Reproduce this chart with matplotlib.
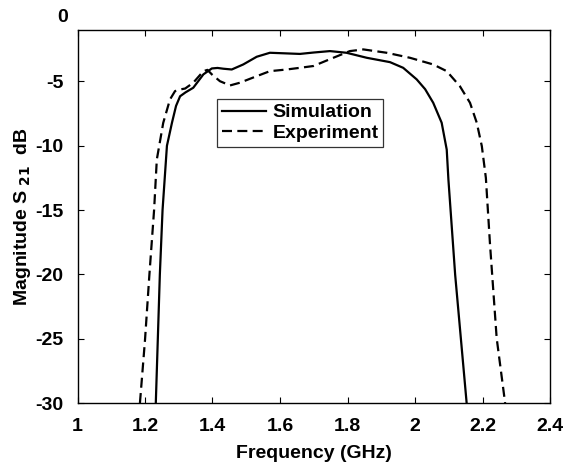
import matplotlib
matplotlib.use("Agg")
import matplotlib.pyplot as plt

plt.rcParams['font.family'] = ['Liberation Sans', 'DejaVu Sans']
plt.rcParams['font.weight'] = 'bold'

sim_f = [1.232, 1.238, 1.244, 1.252, 1.265, 1.280, 1.292, 1.304, 1.320, 1.343, 1.373, 1.398,
         1.415, 1.432, 1.457, 1.491, 1.531, 1.570, 1.620, 1.659, 1.700, 1.748, 1.797, 1.857,
         1.926, 1.965, 2.005, 2.030, 2.054, 2.079, 2.094, 2.099, 2.119, 2.153]
sim_db = [-30.0, -25.0, -20.0, -15.0, -10.0, -8.2, -6.9, -6.15, -5.85, -5.49, -4.45, -3.99,
          -3.95, -4.01, -4.07, -3.68, -3.08, -2.77, -2.82, -2.86, -2.75, -2.64, -2.77, -3.16,
          -3.5, -3.94, -4.84, -5.6, -6.66, -8.21, -10.3, -12.63, -20.03, -30.0]

exp_f = [1.185, 1.200, 1.213, 1.227, 1.235, 1.254, 1.274, 1.289, 1.305, 1.319, 1.343, 1.373,
         1.385, 1.398, 1.422, 1.452, 1.481, 1.531, 1.570, 1.620, 1.659, 1.699, 1.758, 1.807,
         1.847, 1.916, 1.985, 2.054, 2.094, 2.133, 2.163, 2.183, 2.198, 2.210, 2.222, 2.242,
         2.267]
exp_db = [-30.0, -25.1, -20.03, -14.97, -11.07, -8.22, -6.4, -5.75, -5.62, -5.55, -5.1, -4.2,
          -4.1, -4.45, -4.98, -5.31, -5.1, -4.59, -4.2, -4.07, -3.94, -3.8, -3.16, -2.64,
          -2.51, -2.77, -3.16, -3.68, -4.2, -5.37, -6.66, -8.21, -10.03, -12.5, -17.56, -24.96,
          -30.0]

xticks = [1, 1.2, 1.4, 1.6, 1.8, 2, 2.2, 2.4]
xtick_labels = ['1', '1.2', '1.4', '1.6', '1.8', '2', '2.2', '2.4']
yticks = [-30, -25, -20, -15, -10, -5]
ytick_labels = ['-30', '-25', '-20', '-15', '-10', '-5']

FS = 14

fig = plt.figure(figsize=(5.65, 4.65), dpi=100)
ax = fig.add_axes([77.5/565, (465-403)/465, (550-77.5)/565, (403-30)/465])

ax.plot(sim_f, sim_db, color='black', lw=1.6, linestyle='-', label='Simulation')
ax.plot(exp_f, exp_db, color='black', lw=1.6, linestyle=(0, (4.5, 2.4)), label='Experiment')

ax.set_xlim(1, 2.4)
ax.set_ylim(-30, -1)
ax.set_xticks(xticks)
ax.set_xticklabels(xtick_labels)
ax.set_yticks(yticks)
ax.set_yticklabels(ytick_labels)
# the "0" label sits above the visible range in the reference
ax.text(-10/472.5, 0, '0', transform=ax.get_yaxis_transform(), ha='right', va='center',
        fontsize=FS, fontweight='bold', clip_on=False)

ax.tick_params(direction='in', length=4, width=0.8, top=True, right=True,
               labelsize=FS)
ax.tick_params(axis='x', pad=11)
ax.tick_params(axis='y', pad=10)
for lbl in ax.get_xticklabels() + ax.get_yticklabels():
    lbl.set_fontweight('bold')
for s in ax.spines.values():
    s.set_linewidth(1.0)

ax.set_xlabel('Frequency (GHz)', fontsize=FS, fontweight='bold', labelpad=7)
ax.set_ylabel(r'Magnitude S$_{\ \mathbf{21}}$  dB', fontsize=FS, fontweight='bold', labelpad=2)

leg = ax.legend(loc='upper left', bbox_to_anchor=(0.295, 0.815), frameon=True, fancybox=False,
                edgecolor='black', fontsize=FS, handlelength=2.3, borderpad=0.25,
                labelspacing=0.15, handletextpad=0.3, borderaxespad=0)
leg.get_frame().set_linewidth(0.9)
for t in leg.get_texts():
    t.set_fontweight('bold')

fig.savefig('out.png', dpi=100)
